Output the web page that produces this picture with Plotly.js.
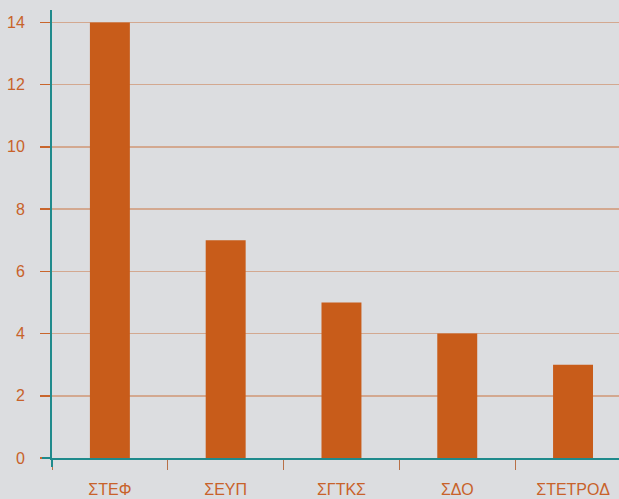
<!DOCTYPE html>
<html><head><meta charset="utf-8">
<script src="https://cdn.plot.ly/plotly-3.0.1.min.js"></script>
<style>html,body{margin:0;padding:0;background:#dcdde0;}</style>
</head><body>
<div id="chart" style="width:619px;height:499px;"></div>
<script>
const categories = ["ΣΤΕΦ", "ΣΕΥΠ", "ΣΓΤΚΣ", "ΣΔΟ", "ΣΤΕΤΡΟΔ"];
const values = [14, 7, 5, 4, 3];
const yTicks = [0, 2, 4, 6, 8, 10, 12, 14];

const orange = "#c85c1a";
const labelColor = "#c8622a";
const teal = "#1f8a8c";

const trace = {
  type: "bar",
  x: categories,
  y: values,
  marker: {color: orange, line: {width: 0}},
  hoverinfo: "skip"
};

const layout = {
  width: 619, height: 499,
  margin: {l: 52, r: 0, t: 10, b: 41},
  paper_bgcolor: "#dcdde0",
  plot_bgcolor: "#dcdde0",
  bargap: 0.655,
  showlegend: false,
  font: {family: "Liberation Sans, Arial, sans-serif", size: 16, color: labelColor},
  xaxis: {
    type: "category",
    range: [-0.5, 4.397],
    showgrid: false,
    zeroline: false,
    showline: true, linecolor: teal, linewidth: 2,
    ticks: "outside", tickson: "boundaries", ticklen: 10, tickcolor: "#b87048", tickwidth: 1,
    ticklabelstandoff: 16,
    tickfont: {size: 16, color: labelColor}
  },
  yaxis: {
    range: [0, 14.4],
    tickvals: yTicks,
    ticktext: yTicks.map(String),
    showgrid: true, gridcolor: "#d3a890", gridwidth: 1.5,
    zeroline: false,
    showline: true, linecolor: teal, linewidth: 2,
    ticks: "outside", ticklen: 10, tickcolor: "#c8652c", tickwidth: 1.5,
    ticklabelstandoff: 12,
    tickfont: {size: 16, color: labelColor}
  },
  shapes: [
    {type: "line", xref: "paper", yref: "paper", x0: 0, x1: 0, y0: -0.02, y1: 0, line: {color: teal, width: 2}},
    {type: "line", xref: "paper", yref: "paper", x0: -0.0176, x1: 0, y0: 0, y1: 0, line: {color: teal, width: 2}}
  ]
};

Plotly.newPlot("chart", [trace], layout, {displayModeBar: false, staticPlot: true});
</script>
</body></html>
